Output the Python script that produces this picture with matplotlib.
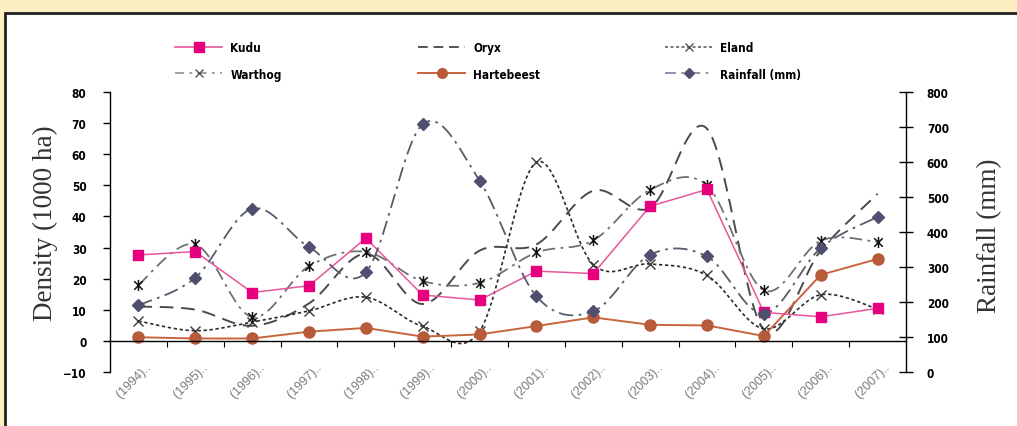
import matplotlib
matplotlib.use('Agg')
import matplotlib.pyplot as plt
import matplotlib.transforms as mtransforms
import numpy as np
from matplotlib.lines import Line2D
from matplotlib.path import Path
from matplotlib.patches import Rectangle
from matplotlib.font_manager import FontProperties

years = list(range(1994, 2008))
year_labels = ['({}).. '.format(y) for y in years]

# animal densities (per 1000 ha)
kudu = [27.6, 28.7, 15.5, 17.7, 33.0, 14.7, 13.1, 22.4, 21.6, 43.3, 48.7, 9.1, 7.7, 10.4]
oryx = [11.0, 10.0, 4.8, 12.0, 28.0, 11.8, 29.0, 31.0, 48.3, 42.8, 68.3, 3.5, 29.0, 47.3]
eland = [6.3, 3.2, 6.0, 9.6, 14.0, 4.6, 3.0, 57.5, 24.5, 24.7, 21.0, 3.8, 14.8, 10.2]
warthog = [18.0, 31.0, 7.6, 24.0, 28.6, 19.2, 18.6, 28.4, 32.3, 48.6, 50.0, 16.2, 32.2, 31.8]
hartebeest = [1.1, 0.7, 0.7, 2.9, 4.1, 1.3, 2.0, 4.7, 7.5, 5.1, 4.9, 1.5, 21.2, 26.3]
# annual rainfall (mm)
rainfall = [190, 269, 467, 357, 285, 709, 547, 216, 173, 335, 330, 166, 354, 443]

bold_narrow = FontProperties(family='DejaVu Sans', weight='bold', stretch='condensed', size=8.5)


def smooth(x, y, n=24):
    # bezier smoothing through every point, like a spreadsheet "smoothed line"
    x = np.asarray(x, float)
    y = np.asarray(y, float)
    px = np.concatenate([[x[0]], x, [x[-1]]])
    py = np.concatenate([[y[0]], y, [y[-1]]])
    t = np.linspace(0, 1, n)[:, None]
    xs, ys = [], []
    for i in range(len(x) - 1):
        p0 = np.array([px[i], py[i]])
        p1 = np.array([px[i + 1], py[i + 1]])
        p2 = np.array([px[i + 2], py[i + 2]])
        p3 = np.array([px[i + 3], py[i + 3]])
        c1 = p1 + (p2 - p0) / 6.0
        c2 = p2 - (p3 - p1) / 6.0
        b = ((1 - t) ** 3) * p1 + 3 * ((1 - t) ** 2) * t * c1 + 3 * (1 - t) * t ** 2 * c2 + t ** 3 * p2
        xs.append(b[:, 0])
        ys.append(b[:, 1])
    return np.concatenate(xs), np.concatenate(ys)


# asterisk marker: an x with a vertical bar through it
star = Path([(-1, -1), (1, 1), (-1, 1), (1, -1), (0, -1.3), (0, 1.3)],
            [Path.MOVETO, Path.LINETO, Path.MOVETO, Path.LINETO, Path.MOVETO, Path.LINETO])

W, H = 1017, 427
fig = plt.figure(figsize=(W / 100, H / 100), dpi=100, facecolor='#FDEFC2')
fig.patches.append(Rectangle((5 / W, -0.1), 1.2, 1 - 14 / H + 0.1, transform=fig.transFigure,
                             facecolor='white', edgecolor='#222222', lw=2, zorder=-5))

ax = fig.add_axes([110 / W, 1 - 372.7 / H, (906 - 110) / W, (372.7 - 93.3) / H])
ax.set_facecolor('none')
ax2 = ax.twinx()

x = np.arange(len(years))

sx, sy = smooth(x, oryx)
ax.plot(sx, sy, color='#4a4a4a', lw=1.4, dashes=(7, 4))

sx, sy = smooth(x, eland)
ax.plot(sx, sy, color='#2a2a2a', lw=1.2, dashes=(2, 1.6))
ax.plot(x, eland, ls='none', marker='x', ms=7, mew=1.0, color='#3a3a3a')

sx, sy = smooth(x, warthog)
ax.plot(sx, sy, color='#707070', lw=1.3, dashes=(7, 3, 1.5, 3))
ax.plot(x, warthog, ls='none', marker=star, ms=8, mew=1.1, mfc='none', mec='#111111')

ax.plot(x, hartebeest, color='#C8653F', lw=1.4, marker='o', ms=8, mfc='#B75B3B', mec='#B75B3B')
ax.plot(x, kudu, color='#E8559B', lw=1.1, marker='s', ms=7.5, mfc='#E6007E', mec='#E6007E')

sx, sy = smooth(x, rainfall)
ax2.plot(sx, sy, color='#5a5a6a', lw=1.3, dashes=(8, 3, 1.5, 3))
ax2.plot(x, rainfall, ls='none', marker='D', ms=6.5, color='#4F4F6F')

ax.set_xlim(-0.5, len(years) - 0.5)
ax.set_ylim(-10, 80)
ax2.set_ylim(0, 800)

for s in ['top', 'right']:
    ax.spines[s].set_visible(False)
for s in ['top', 'left', 'bottom']:
    ax2.spines[s].set_visible(False)
ax.spines['bottom'].set_position(('data', 0))
ax.spines['bottom'].set_linewidth(1.0)
ax.spines['left'].set_linewidth(1.0)
ax2.spines['right'].set_linewidth(1.0)

ax.set_xticks(x)
ax.set_xticks(np.arange(0.5, len(years) - 1, 1), minor=True)
ax.set_xticklabels(year_labels, rotation=45, ha='right', va='top', rotation_mode='anchor',
                   fontsize=9, color='#7a7a7a', family='Liberation Sans')
ax.tick_params(axis='x', which='major', length=0, pad=13)
ax.tick_params(axis='x', which='minor', length=4, direction='out', width=0.8)
shift = mtransforms.ScaledTranslation(9 / 100, 0, fig.dpi_scale_trans)
for lab in ax.get_xticklabels():
    lab.set_transform(lab.get_transform() + shift)

ax.set_yticks(range(-10, 81, 10))
ax.tick_params(axis='y', direction='out', length=5, width=1.0, pad=12)
for lab in ax.get_yticklabels():
    lab.set_fontproperties(bold_narrow)

ax2.set_yticks(range(0, 801, 100))
ax2.tick_params(axis='y', direction='inout', length=10, width=1.0, pad=10)
for lab in ax2.get_yticklabels():
    lab.set_fontproperties(bold_narrow)

fig.text(45 / W, 1 - 223 / H, 'Density (1000 ha)', rotation=90, ha='center', va='center',
         fontsize=19.5, family='Liberation Serif', color='#333333')
fig.text(990 / W, 1 - 236 / H, 'Rainfall (mm)', rotation=90, ha='center', va='center',
         fontsize=19.5, family='Liberation Serif', color='#333333')

# legend in three columns of two entries
h_kudu = Line2D([], [], color='#E8559B', lw=1.2, marker='s', ms=7, mfc='#E6007E', mec='#E6007E')
h_warthog = Line2D([], [], color='#999999', lw=1.3, dashes=(5, 3, 1.5, 3), marker='x', ms=6, mec='#555555')
h_oryx = Line2D([], [], color='#555555', lw=1.4, dashes=(5, 3))
h_hart = Line2D([], [], color='#C8653F', lw=1.4, marker='o', ms=7, mfc='#B75B3B', mec='#B75B3B')
h_eland = Line2D([], [], color='#555555', lw=1.1, dashes=(2, 1.6), marker='x', ms=6, mec='#555555')
h_rain = Line2D([], [], color='#8888AA', lw=1.3, dashes=(6, 3, 1.5, 3), marker='D', ms=5,
                mfc='#4F4F6F', mec='#4F4F6F')

legend_kw = dict(loc='upper left', frameon=False, handlelength=4.0, handletextpad=0.7,
                 labelspacing=1.15, borderpad=0, borderaxespad=0, prop=bold_narrow)
for hs, labs, x0 in [([h_kudu, h_warthog], ['Kudu', 'Warthog'], 175),
                     ([h_oryx, h_hart], ['Oryx', 'Hartebeest'], 418),
                     ([h_eland, h_rain], ['Eland', 'Rainfall (mm)'], 665)]:
    fig.legend(hs, labs, bbox_to_anchor=(x0 / W, 1 - 42 / H), **legend_kw)

fig.savefig('out.png', dpi=100, facecolor=fig.get_facecolor())
